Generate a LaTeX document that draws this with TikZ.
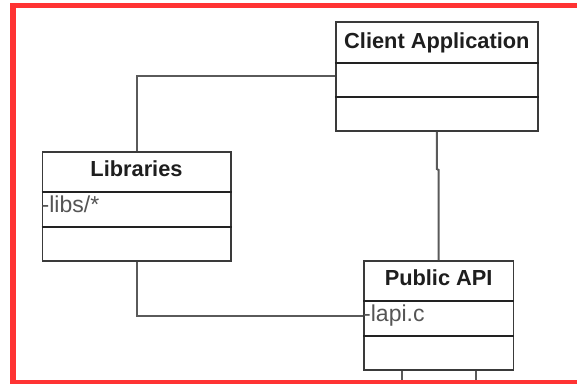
\documentclass[tikz,border=0pt]{standalone}
\usepackage{fontspec}
\setmainfont{Liberation Sans}
\definecolor{redframe}{HTML}{FF3333}
\definecolor{boxline}{HTML}{3A3A3A}
\definecolor{divline}{HTML}{222222}
\definecolor{connline}{HTML}{5A5A5A}
\definecolor{titlecol}{HTML}{1E1E1E}
\definecolor{attrcol}{HTML}{555555}
\begin{document}
\begin{tikzpicture}[x=1pt,y=-1pt,
  umlbox/.style={draw=boxline, line width=1.6pt, rectangle, inner sep=0pt, fill=white},
  divider/.style={draw=divline, line width=1.6pt},
  conn/.style={draw=connline, line width=2pt},
  umltitle/.style={anchor=base, inner sep=0pt, text=titlecol, font=\fontsize{21.8}{24}\selectfont\bfseries},
  umlattr/.style={anchor=base west, inner sep=0pt, text=attrcol, font=\fontsize{23}{26}\selectfont},
  frame/.style={draw=redframe, line width=5.5pt}
]
\useasboundingbox (0,0) rectangle (577,383);
\clip (0,0) rectangle (577,383);

% connector bends and free ends
\coordinate (j1) at (436.85,169);
\coordinate (j2) at (438.65,170);
\coordinate (s1) at (401.7,395);
\coordinate (s2) at (476,395);

% boxes
\node[umlbox, minimum width=202.3pt, minimum height=109.3pt] (client) at (436.85,76.35) {};
\node[umlbox, minimum width=188.4pt, minimum height=109pt] (libs) at (136.5,206.2) {};
\node[umlbox, minimum width=149.3pt, minimum height=109pt] (api) at (438.65,315.5) {};

% connectors
\draw[conn] (libs.north) |- (client.west);
\draw[conn] (client.south) -- (j1) -- (j2) -- (api.north);
\draw[conn] (libs.south) |- (api.west);
\draw[conn] (api.south -| s1) -- (s1);
\draw[conn] (api.south -| s2) -- (s2);

% dividers
\draw[divider] (client.west |- 0,62.7) -- (client.east |- 0,62.7);
\draw[divider] (client.west |- 0,97) -- (client.east |- 0,97);
\draw[divider] (libs.west |- 0,191.7) -- (libs.east |- 0,191.7);
\draw[divider] (libs.west |- 0,226.7) -- (libs.east |- 0,226.7);
\draw[divider] (api.west |- 0,301) -- (api.east |- 0,301);
\draw[divider] (api.west |- 0,335.7) -- (api.east |- 0,335.7);

% texts
\node[umltitle] (clientt) at (436.85,48.3) {Client Application};
\node[umltitle] (libst) at (136.5,176) {Libraries};
\node[umltitle] (apit) at (438.65,285) {Public API};
\node[umlattr] (libsa) at (41.5,212.7) {-libs/*};
\node[umlattr] (apia) at (363,321.7) {-lapi.c};

% red frame
\draw[frame] (600,5.5) -- (13,5.5) -- (13,382.5) -- (600,382.5);
\end{tikzpicture}
\end{document}
